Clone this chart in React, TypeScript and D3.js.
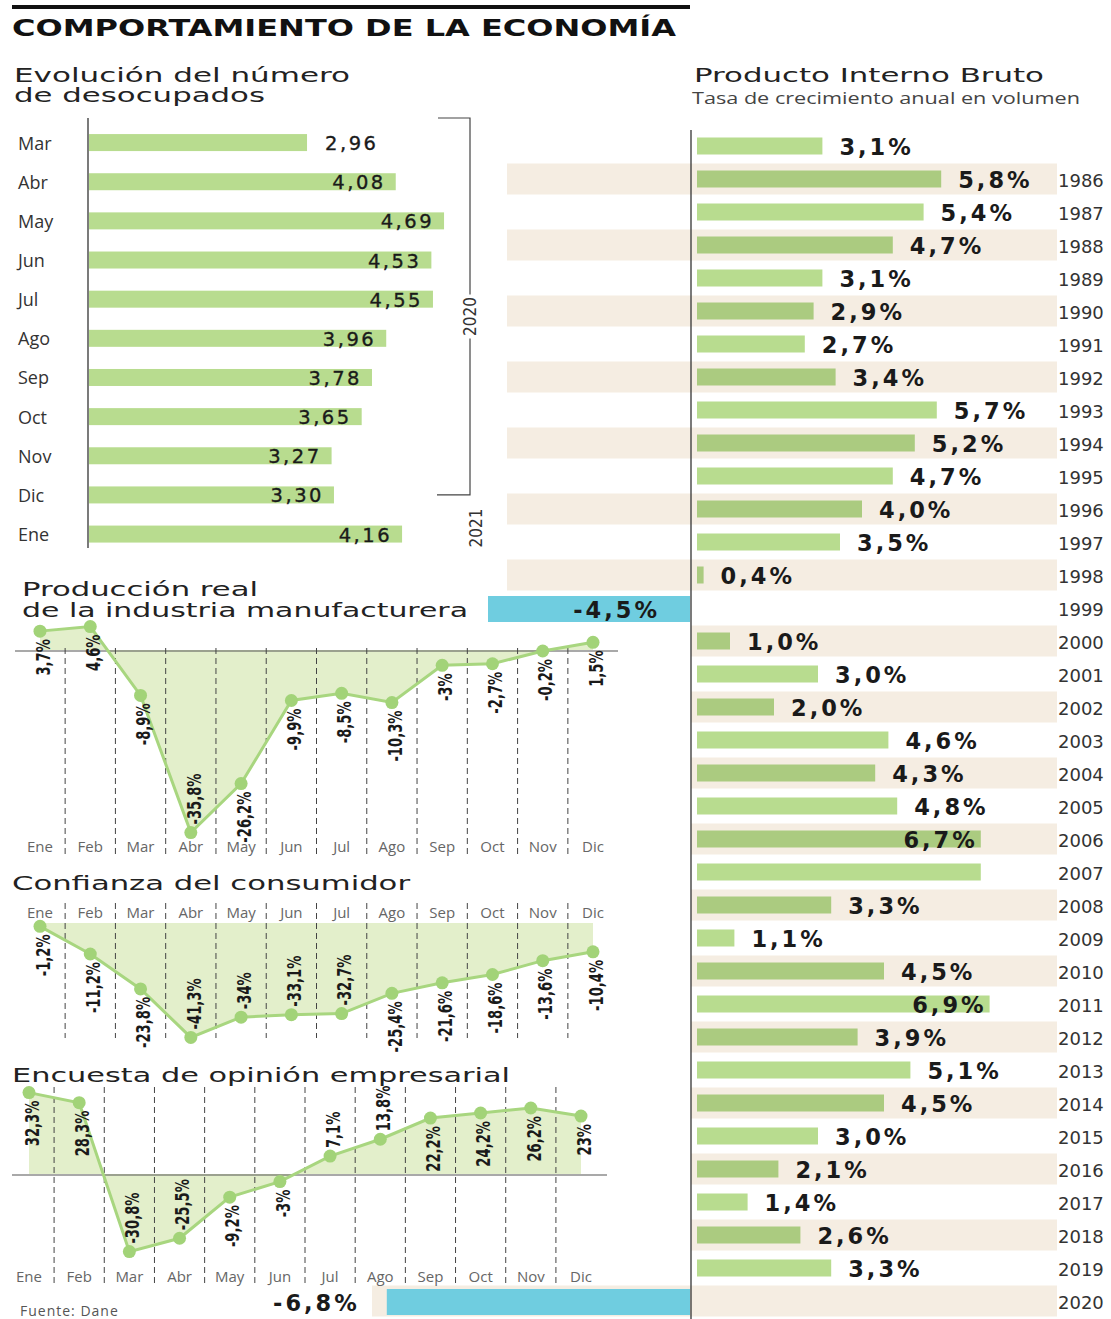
import React from 'react';
import * as d3 from 'd3';

// --- datos ---
const desocMonths = ['Mar', 'Abr', 'May', 'Jun', 'Jul', 'Ago', 'Sep', 'Oct', 'Nov', 'Dic', 'Ene'];
const desocValues = [2.96, 4.08, 4.69, 4.53, 4.55, 3.96, 3.78, 3.65, 3.27, 3.30, 4.16];

const months = ['Ene', 'Feb', 'Mar', 'Abr', 'May', 'Jun', 'Jul', 'Ago', 'Sep', 'Oct', 'Nov', 'Dic'];
const industriaValues = [3.7, 4.6, -8.9, -35.8, -26.2, -9.9, -8.5, -10.3, -3, -2.7, -0.2, 1.5];
const industriaSides = ['b', 'b', 'b', 'a', 'b', 'b', 'b', 'b', 'b', 'b', 'b', 'b'];
const confianzaValues = [-1.2, -11.2, -23.8, -41.3, -34, -33.1, -32.7, -25.4, -21.6, -18.6, -13.6, -10.4];
const confianzaSides = ['b', 'b', 'b', 'a', 'a', 'a', 'a', 'b', 'b', 'b', 'b', 'b'];
const encuestaValues = [32.3, 28.3, -30.8, -25.5, -9.2, -3, 7.1, 13.8, 22.2, 24.2, 26.2, 23];
const encuestaSides = ['b', 'b', 'a', 'a', 'b', 'b', 'a', 'a', 'b', 'b', 'b', 'b'];

const pibYears = ['1985', '1986', '1987', '1988', '1989', '1990', '1991', '1992', '1993', '1994', '1995', '1996',
  '1997', '1998', '1999', '2000', '2001', '2002', '2003', '2004', '2005', '2006', '2007', '2008', '2009', '2010',
  '2011', '2012', '2013', '2014', '2015', '2016', '2017', '2018', '2019', '2020'];
const pibValues = [3.1, 5.8, 5.4, 4.7, 3.1, 2.9, 2.7, 3.4, 5.7, 5.2, 4.7, 4.0, 3.5, 0.4, -4.5, 1.0, 3.0, 2.0, 4.6,
  4.3, 4.8, 6.7, 6.7, 3.3, 1.1, 4.5, 6.9, 3.9, 5.1, 4.5, 3.0, 2.1, 1.4, 2.6, 3.3, -6.8];
const pibHiddenYear = ['1985'];
const pibHiddenValue = ['2007'];

const W = 1111;
const H = 1319;
const WIDE = "'DejaVu Sans', 'Open Sans', sans-serif";
const NARROW = "'Liberation Sans Narrow', 'DejaVu Sans Condensed', 'Roboto', sans-serif";
const SOFT = "'Open Sans', 'DejaVu Sans', sans-serif";

const GREEN = '#b8dc8f';
const GREEN_DARK = '#abcb80';
const BEIGE = '#f5ede2';
const BLUE = '#6fcde0';
const LINE = '#a8d67f';
const DOT = '#a2d378';
const FILL = '#e3efcb';

const comma = (s: string) => s.replace('.', ',');
const fmtLine = (v: number) => (Number.isInteger(v) ? String(v) : comma(v.toFixed(1))) + '%';
const fmtPib = (v: number) => comma(v.toFixed(1)) + '%';
const fmtDesoc = (v: number) => comma(v.toFixed(2));

const Title: React.FC<{ x: number; y: number; len: number; size?: number; fill?: string; family?: string; children: string }> =
  ({ x, y, len, size = 20, fill = '#222', family = WIDE, children }) => (
    <text x={x} y={y} fontFamily={family} fontSize={size} textLength={len} lengthAdjust="spacingAndGlyphs" fill={fill}>
      {children}
    </text>
  );

interface LineProps {
  values: number[];
  sides: string[];
  x0: number;
  x1: number;
  zeroY: number;
  k: number;
  zeroLine?: [number, number];
  dashTop: number;
  dashBottom: number;
  monthY: number;
}

const LineChart: React.FC<LineProps> = ({ values, sides, x0, x1, zeroY, k, zeroLine, dashTop, dashBottom, monthY }) => {
  const x = d3.scalePoint<string>().domain(months).range([x0, x1]);
  const y = d3.scaleLinear().domain([0, 10]).range([zeroY, zeroY - 10 * k]);
  const pts = months.map((m, i) => ({ m, v: values[i] }));
  const area = d3.area<{ m: string; v: number }>()
    .x(d => x(d.m)!)
    .y0(y(0))
    .y1(d => y(d.v));
  const line = d3.line<{ m: string; v: number }>()
    .x(d => x(d.m)!)
    .y(d => y(d.v));
  const step = x.step();
  return (
    <g>
      <path d={area(pts)!} fill={FILL} />
      {zeroLine && <line x1={zeroLine[0]} x2={zeroLine[1]} y1={y(0) + 1} y2={y(0) + 1} stroke="#555" strokeWidth={1.2} />}
      {months.slice(1).map(m => (
        <line key={m} x1={x(m)! - step / 2} x2={x(m)! - step / 2} y1={dashTop} y2={dashBottom}
          stroke="#444" strokeWidth={1} strokeDasharray="6,4" />
      ))}
      <path d={line(pts)!} fill="none" stroke={LINE} strokeWidth={3} />
      {pts.map(d => (
        <circle key={d.m} cx={x(d.m)!} cy={y(d.v)} r={6.5} fill={DOT} />
      ))}
      {pts.map((d, i) => {
        const below = sides[i] === 'b';
        const ty = below ? y(d.v) + 8 : y(d.v) - 8;
        return (
          <text key={d.m} transform={`translate(${x(d.m)! + 3},${ty}) rotate(-90) scale(0.86,1.12)`}
            textAnchor={below ? 'end' : 'start'} dominantBaseline="central"
            fontFamily={NARROW} fontWeight="bold" fontSize={17} fill="#1a1a1a">
            {fmtLine(d.v)}
          </text>
        );
      })}
      {months.map(m => (
        <text key={m} x={x(m)!} y={monthY} textAnchor="middle" fontFamily={SOFT} fontSize={15} fill="#666">{m}</text>
      ))}
    </g>
  );
};

const App: React.FC = () => {
  // desocupados
  const yD = d3.scaleBand<string>().domain(desocMonths).range([123, 123 + 11 * 39.15]);
  const xD = d3.scaleLinear().domain([0, 5]).range([72.6, 72.6 + 5 * 79.2]);
  const bwD = yD.bandwidth();
  const desocAxisX = 88;
  const bracketX = 470;
  const bracketTop = yD.range()[0] - 5;
  const bracketBottom = yD('Dic')! + bwD / 2;

  // PIB
  const yP = d3.scaleBand<string>().domain(pibYears).range([129.5, 129.5 + pibYears.length * 33]);
  const xP = d3.scaleLinear().domain([0, 7]).range([686, 686 + 7 * 44]);
  const bwP = yP.bandwidth();
  const pibAxisX = 691;

  return (
    <svg width={W} height={H} viewBox={`0 0 ${W} ${H}`}
      style={{ position: 'absolute', left: 0, top: 0, background: '#fff', display: 'block' }}>
      <rect width={W} height={H} fill="#fff" />

      {/* PIB bandas */}
      {pibYears.map(yr => {
        const n = +yr;
        if (n % 2 !== 0) return null;
        const left = n <= 1998 ? 507 : n === 2020 ? 372 : pibAxisX;
        return <rect key={yr} x={left} y={yP(yr)! + 1} width={1057 - left} height={bwP - 2} fill={BEIGE} />;
      })}

      {/* cabecera */}
      <rect x={12} y={5} width={678} height={4} fill="#111" />
      <text x={12} y={36} fontFamily={WIDE} fontWeight="bold" fontSize={23} textLength={664} lengthAdjust="spacingAndGlyphs" fill="#111">
        COMPORTAMIENTO DE LA ECONOMÍA
      </text>

      {/* desocupados */}
      <Title x={14} y={82} len={336} size={19}>Evolución del número</Title>
      <Title x={14} y={102} len={251} size={19}>de desocupados</Title>
      {desocMonths.map((m, i) => {
        const cy = yD(m)! + bwD / 2;
        const v = desocValues[i];
        const end = xD(v);
        const inside = v >= 3.2;
        return (
          <g key={m + i}>
            <text x={18} y={cy} dominantBaseline="central" fontFamily={SOFT} fontSize={18} fill="#333">{m}</text>
            <rect x={desocAxisX + 1} y={cy - 8.5} width={end - desocAxisX - 1} height={17} fill={GREEN} />
            <text x={inside ? end - 10 : end + 18} y={cy + 1} textAnchor={inside ? 'end' : 'start'} dominantBaseline="central"
              fontFamily={WIDE} fontSize={19.5} letterSpacing={2.5} stroke="#1a1a1a" strokeWidth={0.35} fill="#1a1a1a">{fmtDesoc(v)}</text>
          </g>
        );
      })}
      <line x1={desocAxisX} x2={desocAxisX} y1={118} y2={548} stroke="#333" strokeWidth={1.3} />
      <g stroke="#444" strokeWidth={1.2} fill="none">
        <polyline points={`${bracketX - 32},${bracketTop} ${bracketX},${bracketTop} ${bracketX},${(bracketTop + bracketBottom) / 2 - 12}`} />
        <polyline points={`${bracketX},${(bracketTop + bracketBottom) / 2 + 32} ${bracketX},${bracketBottom} ${bracketX - 33},${bracketBottom}`} />
      </g>
      <text transform={`translate(${bracketX},${(bracketTop + bracketBottom) / 2 + 10}) rotate(-90)`} textAnchor="middle"
        dominantBaseline="central" fontFamily={NARROW} fontSize={17} fill="#333">2020</text>
      <text transform={`translate(${bracketX + 6},${yD('Ene')! + bwD / 2 - 6}) rotate(-90)`} textAnchor="middle"
        dominantBaseline="central" fontFamily={NARROW} fontSize={17} fill="#333">2021</text>

      {/* PIB */}
      <Title x={694} y={82} len={350} size={19}>Producto Interno Bruto</Title>
      <Title x={692} y={104} len={388} size={17} fill="#444" family={SOFT}>Tasa de crecimiento anual en volumen</Title>
      {pibYears.map((yr, i) => {
        const v = pibValues[i];
        const cy = yP(yr)! + bwP / 2;
        const beige = +yr % 2 === 0;
        const showVal = !pibHiddenValue.includes(yr);
        let bar: React.ReactNode;
        let label: React.ReactNode = null;
        if (v >= 0) {
          const end = xP(v);
          const start = pibAxisX + 6;
          bar = <rect x={start} y={cy - 8.5} width={Math.max(end - start, 4)} height={17} fill={beige ? GREEN_DARK : GREEN} />;
          const inside = end + 18 + 80 > 1052;
          const lx = inside ? end - 3 : Math.max(end, start + 4) + 17;
          label = showVal && (
            <text x={lx} y={cy + 1} textAnchor={inside ? 'end' : 'start'} dominantBaseline="central" fontFamily={WIDE}
              fontWeight="bold" fontSize={22.5} letterSpacing={3} fill="#1a1a1a">{fmtPib(v)}</text>
          );
        } else {
          const start = xP(v);
          const end = pibAxisX - 1;
          bar = <rect x={start} y={cy - 12} width={end - start} height={26} fill={BLUE} />;
          const inside = v > -5;
          label = showVal && (
            <text x={inside ? end - 30 : start - 27} y={cy + 2} textAnchor="end" dominantBaseline="central" fontFamily={WIDE}
              fontWeight="bold" fontSize={22.5} letterSpacing={3} fill="#1a1a1a">{fmtPib(v)}</text>
          );
        }
        return (
          <g key={yr}>
            {bar}
            {label}
            {!pibHiddenYear.includes(yr) && (
              <text x={1058} y={cy + 1} dominantBaseline="central" fontFamily={WIDE} fontSize={18} fill="#333">{yr}</text>
            )}
          </g>
        );
      })}
      <line x1={pibAxisX} x2={pibAxisX} y1={130} y2={H} stroke="#333" strokeWidth={1.3} />

      {/* industria */}
      <Title x={22} y={596} len={236} size={19}>Producción real</Title>
      <Title x={22} y={617} len={446} size={19}>de la industria manufacturera</Title>
      <LineChart values={industriaValues} sides={industriaSides} x0={40} x1={593} zeroY={650} k={5.1}
        zeroLine={[15, 618]} dashTop={648} dashBottom={857} monthY={852} />

      {/* confianza */}
      <Title x={12} y={890} len={398} size={20}>Confianza del consumidor</Title>
      <LineChart values={confianzaValues} sides={confianzaSides} x0={40} x1={593} zeroY={923} k={2.77}
        dashTop={903} dashBottom={1038} monthY={918} />

      {/* encuesta */}
      <Title x={12} y={1082} len={498} size={20}>Encuesta de opinión empresarial</Title>
      <LineChart values={encuestaValues} sides={encuestaSides} x0={29} x1={581} zeroY={1174} k={2.52}
        zeroLine={[12, 607]} dashTop={1087} dashBottom={1284} monthY={1282} />

      <text x={20} y={1316} fontFamily={SOFT} fontSize={14} letterSpacing={1} fill="#555">Fuente: Dane</text>
    </svg>
  );
};

export default App;
